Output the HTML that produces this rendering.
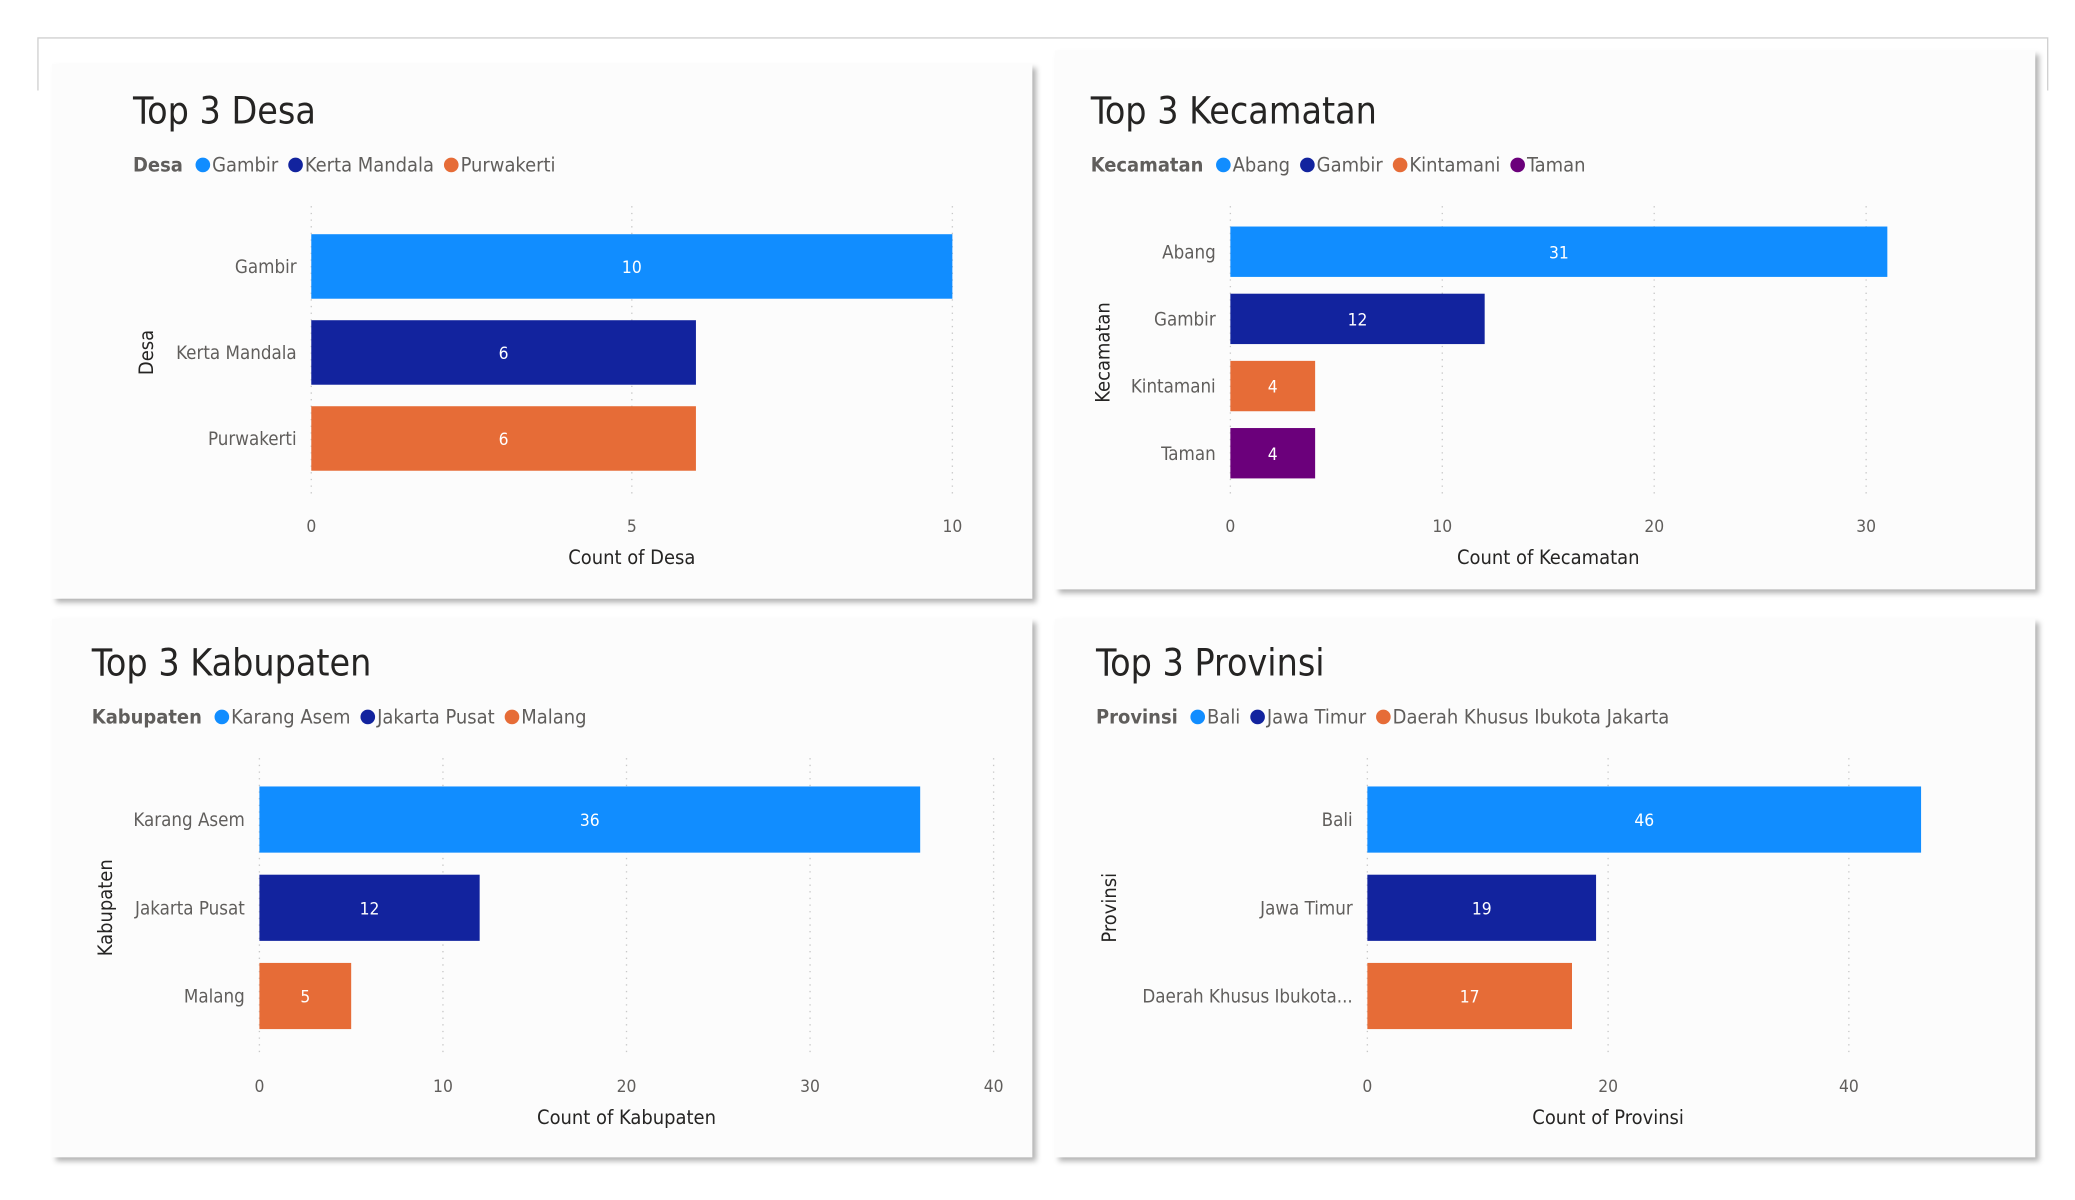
<!DOCTYPE html>
<html><head><meta charset="utf-8"><style>
html,body{margin:0;padding:0;background:#fff;width:2075px;height:1200px;overflow:hidden}
svg{display:block;font-family:"DejaVu Sans Condensed","Liberation Sans Narrow","Liberation Sans",sans-serif}
</style></head><body>
<svg id="root" width="2075" height="1200" viewBox="0 0 1560 902.2" xmlns="http://www.w3.org/2000/svg">
<defs><filter id="sh" x="-5%" y="-5%" width="110%" height="110%"><feDropShadow dx="3" dy="3" stdDeviation="2" flood-color="#000" flood-opacity="0.3"/></filter></defs>
<path d="M28.5 68 V28.5 H1539.5 V68" fill="none" stroke="#d0d0d0"/>
</svg>
<script>
const desaCats=["Gambir","Kerta Mandala","Purwakerti"];
const desaVals=[10,6,6];
const desaTicks=[0,5,10];
const kecCats=["Abang","Gambir","Kintamani","Taman"];
const kecVals=[31,12,4,4];
const kecTicks=[0,10,20,30];
const kabCats=["Karang Asem","Jakarta Pusat","Malang"];
const kabVals=[36,12,5];
const kabTicks=[0,10,20,30,40];
const provCats=["Bali","Jawa Timur","Daerah Khusus Ibukota Jakarta"];
const provLabels=["Bali","Jawa Timur","Daerah Khusus Ibukota..."];
const provVals=[46,19,17];
const provTicks=[0,20,40];
const colors=["#118DFF","#12239E","#E66C37","#6B007B"];
const NS="http://www.w3.org/2000/svg";
const root=document.getElementById('root');
function mk(tag,attrs,parent,text){const e=document.createElementNS(NS,tag);for(const k in attrs)e.setAttribute(k,attrs[k]);if(text!==undefined)e.textContent=text;parent.appendChild(e);return e;}
function chart(cfg){
  const g=mk('g',{},root);
  
  
  const p=mk('rect',{x:cfg.box[0],y:cfg.box[1],width:cfg.box[2],height:cfg.box[3],fill:'#fcfcfc',filter:'url(#sh)'},g);
  
  
  const t=mk('text',{x:cfg.titleX,y:cfg.titleY,'font-size':28,fill:'#252423'},g,cfg.title);
  
  
  // legend
  let lx=cfg.titleX;
  const lt=mk('text',{x:lx,y:cfg.legY,'font-size':15,'font-weight':'bold',fill:'#605E5C'},g,cfg.legTitle);
  
  
  lx+=lt.getComputedTextLength()+10;
  cfg.cats.forEach((c,i)=>{
    const lg=mk('g',{},g);
    
    
    mk('circle',{cx:lx+5,cy:cfg.legY-5,r:5.5,fill:colors[i]},lg);
    const tx=mk('text',{x:lx+12,y:cfg.legY,'font-size':15,fill:'#605E5C'},lg,c);
    lx+=12+tx.getComputedTextLength()+8;
  });
  const x=v=>cfg.x0+(v-cfg.ticks[0])*(cfg.x1-cfg.x0)/(cfg.ticks[cfg.ticks.length-1]-cfg.ticks[0]);
  cfg.ticks.forEach(tv=>{
    const gl=mk('line',{x1:x(tv),x2:x(tv),y1:cfg.gridTop,y2:cfg.gridBot,stroke:'#c8c8c8','stroke-dasharray':'1 4'},g);
    
    
    const tl=mk('text',{x:x(tv),y:cfg.tickY,'font-size':13,fill:'#605E5C','text-anchor':'middle'},g,tv);
    
    
  });
  const n=cfg.cats.length;
  const step=(cfg.bandBot-cfg.bandTop)/n;
  const bh=step*cfg.fill;
  cfg.vals.forEach((v,i)=>{
    const cy=cfg.bandTop+step*(i+0.5);
    const b=mk('rect',{x:x(0),y:cy-bh/2,width:x(v)-x(0),height:bh,fill:colors[i]},g);
    
    
    const vl=mk('text',{x:(x(0)+x(v))/2,y:cy+5,'font-size':13,fill:'#fff','text-anchor':'middle'},g,v);
    
    
    const cl=mk('text',{x:x(0)-11,y:cy+5,'font-size':14,fill:'#605E5C','text-anchor':'end'},g,(cfg.labels||cfg.cats)[i]);
    
    
  });
  const xt=mk('text',{x:(x(cfg.ticks[0])+x(cfg.ticks[cfg.ticks.length-1]))/2,y:cfg.tickY+24,'font-size':15,fill:'#252423','text-anchor':'middle'},g,cfg.xTitle);
  
  
  const yt=mk('text',{x:0,y:0,'font-size':15,fill:'#252423','text-anchor':'middle',transform:`translate(${cfg.yTitleX},${(cfg.bandTop+cfg.bandBot)/2}) rotate(-90)`},g,cfg.legTitle);
  
  
}
chart({name:'desa',box:[39,48,737,402],title:'Top 3 Desa',titleX:100,titleY:93,legTitle:'Desa',legY:129,cats:desaCats,vals:desaVals,ticks:desaTicks,x0:234,x1:716,gridTop:155,gridBot:375,bandTop:168,bandBot:362,fill:0.75,tickY:400,xTitle:'Count of Desa',yTitleX:115});
chart({name:'kecamatan',box:[793,38,737,405],title:'Top 3 Kecamatan',titleX:820,titleY:93,legTitle:'Kecamatan',legY:129,cats:kecCats,vals:kecVals,ticks:kecTicks,x0:925,x1:1403,gridTop:155,gridBot:375,bandTop:164,bandBot:366,fill:0.75,tickY:400,xTitle:'Count of Kecamatan',yTitleX:834});
chart({name:'kabupaten',box:[39,465,737,405],title:'Top 3 Kabupaten',titleX:69,titleY:508,legTitle:'Kabupaten',legY:544,cats:kabCats,vals:kabVals,ticks:kabTicks,x0:195,x1:747,gridTop:570,gridBot:795,bandTop:583,bandBot:782,fill:0.75,tickY:821,xTitle:'Count of Kabupaten',yTitleX:84});
chart({name:'provinsi',box:[793,465,737,405],title:'Top 3 Provinsi',titleX:824,titleY:508,legTitle:'Provinsi',legY:544,cats:provCats,labels:provLabels,vals:provVals,ticks:provTicks,x0:1028,x1:1390,gridTop:570,gridBot:795,bandTop:583,bandBot:782,fill:0.75,tickY:821,xTitle:'Count of Provinsi',yTitleX:839});
</script>
</body></html>
